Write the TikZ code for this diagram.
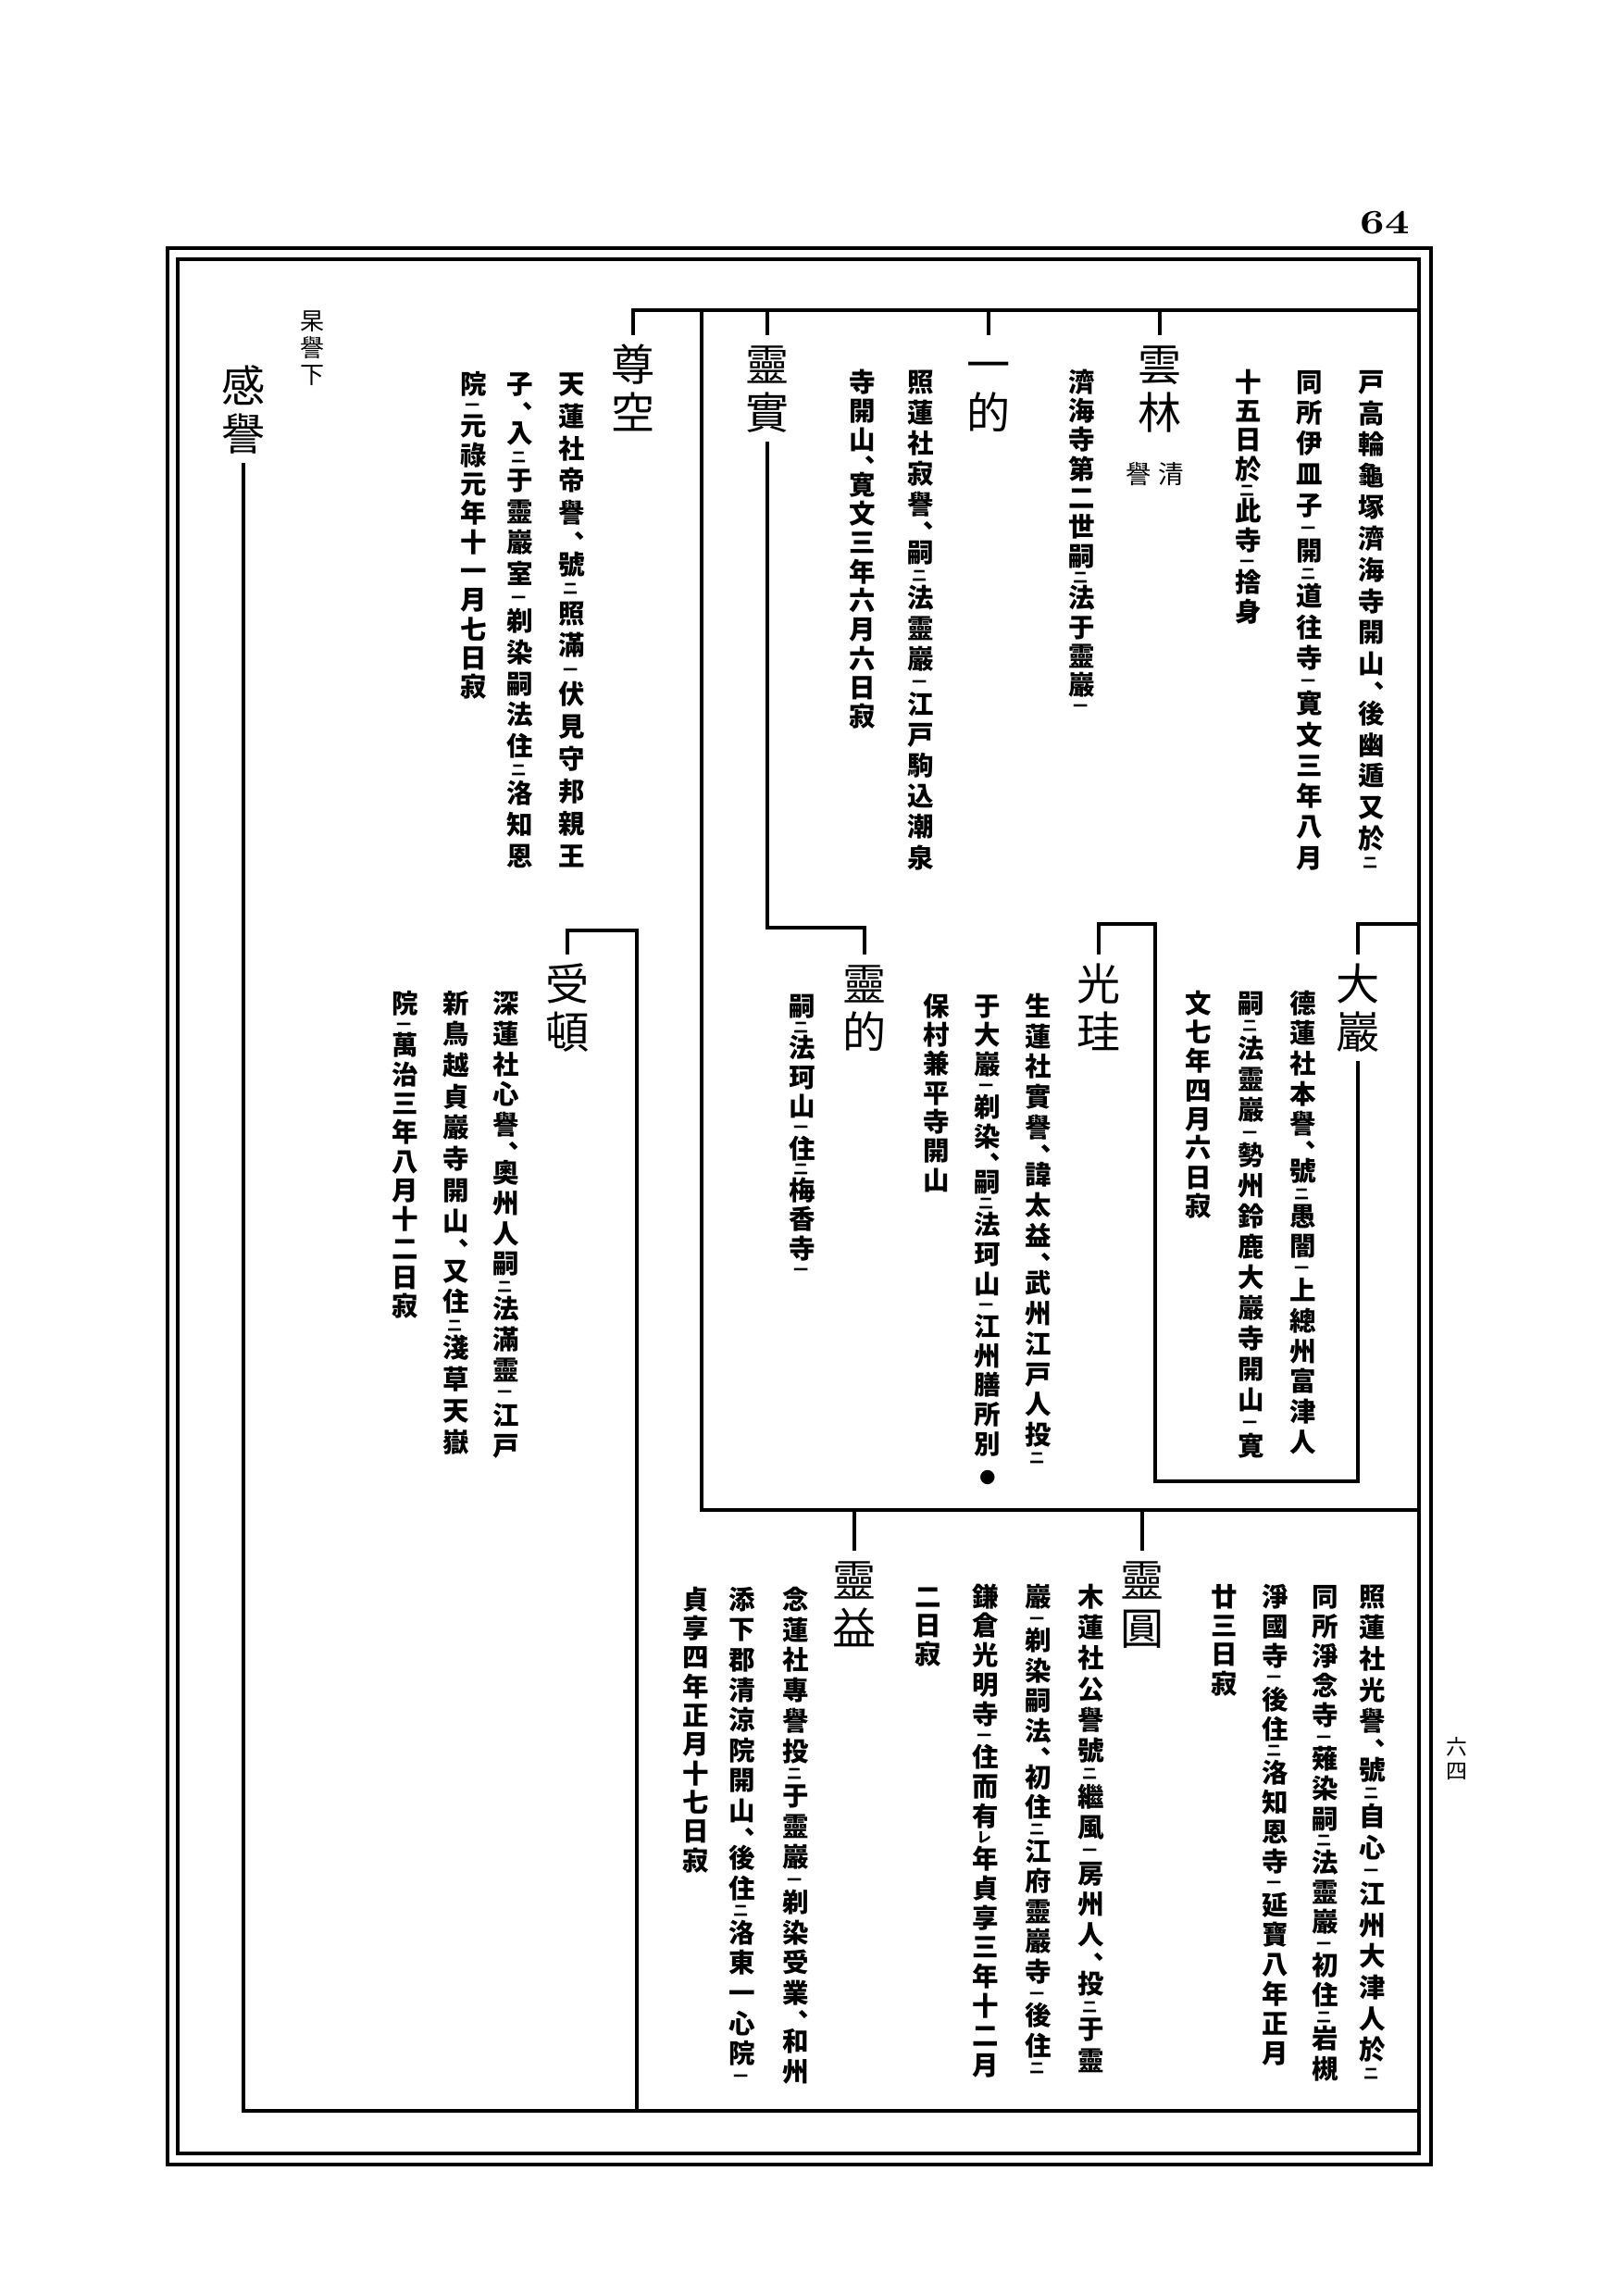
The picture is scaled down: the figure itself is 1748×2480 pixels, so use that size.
\documentclass[tikz,border=0pt]{standalone}
\usepackage{fontspec}
\usepackage{graphicx}
\newfontfamily\cjk{Noto Sans CJK JP}
\makeatletter
\def\kt{}
\newcommand\vc@ch[1]{\hbox to1em{\hss\vrule height.93em depth.17em width0pt\smash{#1}\hss}}
\newcommand\vc@kt[1]{\hbox to1em{\hss\vrule height.46em depth.04em width0pt\smash{\scalebox{.55}{#1}}\hss\kern.12em}}
\newcommand\vc@cm{\hbox to1em{\hss\vrule height.6em depth0em width0pt\smash{\raisebox{-.3em}{︑}}\hss}}
\def\vc@chk#1#2\@nil{\ifx#1\kt\vc@kt{#2}\else\ifx#1︑\vc@cm\else\vc@ch{#1#2}\fi\fi}
\newcommand\vc@run[1]{\offinterlineskip\@tfor\vc@x:=#1\do{\expandafter\vc@chk\vc@x\@nil\vc@glue}\unskip}
\newcommand\vcol[1]{\vbox{\let\vc@glue\relax\vc@run{#1}}}
\newcommand\vcolj[2]{\vbox to#1{\def\vc@glue{\vskip0pt plus1fil}\vc@run{#2}}}
\makeatother

\begin{document}
\begin{tikzpicture}[x=0.01cm,y=-0.01cm,
            lbl/.style={inner sep=0pt,anchor=north,font=\cjk\fontsize{13.4pt}{13.4pt}\selectfont},
            txt/.style={inner sep=0pt,anchor=north,font=\cjk\bfseries\fontsize{8.1pt}{8.1pt}\selectfont},
            sml/.style={inner sep=0pt,anchor=north,font=\cjk\fontsize{7.4pt}{7.4pt}\selectfont},
            link/.style={line width=0.9pt,shorten >=1.5pt},
            rim/.style={line width=1.1pt}]
            \useasboundingbox (0,0) rectangle (1748,2480);
            \draw[rim] (181,268) rectangle (1546,2338);
            \draw[rim] (192,280) rectangle (1533,2326);
            \node[font=\bfseries\fontsize{10.5pt}{10.5pt}\selectfont] (pgno) at (1496,241) {\scalebox{1.25}[1]{64}};
            \node[sml,font=\cjk\fontsize{6.5pt}{6.5pt}\selectfont] (pgkan) at (1574,1874) {\vcol{六四}};

            \node[lbl] (kanyo) at (263,390) {\vcol{感譽}};
            \node[sml] (gaiyo) at (338,332) {\vcol{杲譽下}};
            \node[lbl] (sonku) at (684,367) {\vcol{尊空}};
            \node[lbl] (reijitsu) at (829,367) {\vcol{靈實}};
            \node[lbl] (itteki) at (1068,367) {\vcol{一的}};
            \node[lbl] (unrin) at (1253,367) {\vcol{雲林}};
            \node[sml,anchor=center,font=\cjk\fontsize{7.8pt}{7.8pt}\selectfont] (unrin-a) at (1265,512) {清};
            \node[sml,anchor=center,font=\cjk\fontsize{7.8pt}{7.8pt}\selectfont] (unrin-b) at (1230,512) {譽};
            \node[lbl] (daigan) at (1467,1036) {\vcol{大巖}};
            \node[lbl] (kokei) at (1187,1036) {\vcol{光珪}};
            \node[lbl] (reiteki) at (934,1036) {\vcol{靈的}};
            \node[lbl] (juton) at (613,1036) {\vcol{受頓}};
            \node[lbl] (reien) at (1234,1680) {\vcol{靈圓}};
            \node[lbl] (reieki) at (923,1680) {\vcol{靈益}};

            \node[txt] (pre1) at (1482,396) {\vcolj{5.4cm}{戸高輪龜塚濟海寺開山︑後幽遁又於{\kt{二}}}};
            \node[txt] (pre2) at (1415,396) {\vcolj{5.4cm}{同所伊皿子{\kt{一}}開{\kt{二}}道往寺{\kt{一}}寛文三年八月}};
            \node[txt] (pre3) at (1349,396) {\vcol{十五日於{\kt{二}}此寺{\kt{一}}捨身}};
            \node[txt] (unrin1) at (1169,396) {\vcol{濟海寺第二世嗣{\kt{二}}法于靈巖{\kt{一}}}};
            \node[txt] (itteki1) at (995,396) {\vcolj{5.4cm}{照蓮社寂譽︑嗣{\kt{二}}法靈巖{\kt{一}}江戸駒込潮泉}};
            \node[txt] (itteki2) at (932,396) {\vcol{寺開山︑寛文三年六月六日寂}};
            \node[txt] (sonku1) at (618,398) {\vcolj{5.36cm}{天蓮社帝譽︑號{\kt{二}}照滿{\kt{一}}伏見守邦親王}};
            \node[txt] (sonku2) at (562,398) {\vcolj{5.36cm}{子︑入{\kt{二}}于靈巖室{\kt{一}}剃染嗣法住{\kt{二}}洛知恩}};
            \node[txt] (sonku3) at (512,398) {\vcol{院{\kt{一}}元祿元年十一月七日寂}};

            \node[txt] (daigan1) at (1408,1067) {\vcolj{5.0cm}{德蓮社本譽︑號{\kt{二}}愚闇{\kt{一}}上總州富津人}};
            \node[txt] (daigan2) at (1352,1067) {\vcolj{5.04cm}{嗣{\kt{二}}法靈巖{\kt{一}}勢州鈴鹿大巖寺開山{\kt{一}}寛}};
            \node[txt] (daigan3) at (1295,1067) {\vcol{文七年四月六日寂}};
            \node[txt] (kokei1) at (1122,1070) {\vcolj{5.09cm}{生蓮社實譽︑諱太益︑武州江戸人投{\kt{二}}}};
            \node[txt] (kokei2) at (1067,1070) {\vcolj{5.31cm}{于大巖{\kt{一}}剃染︑嗣{\kt{二}}法珂山{\kt{一}}江州膳所別{\scalebox{.6}{●}}}};
            \node[txt] (kokei3) at (1012,1070) {\vcol{保村兼平寺開山}};
            \node[txt] (reiteki1) at (867,1070) {\vcol{嗣{\kt{二}}法珂山{\kt{一}}住{\kt{二}}梅香寺{\kt{一}}}};
            \node[txt] (juton1) at (547,1067) {\vcolj{5.04cm}{深蓮社心譽︑奧州人嗣{\kt{二}}法滿靈{\kt{一}}江戸}};
            \node[txt] (juton2) at (493,1067) {\vcolj{5.0cm}{新鳥越貞巖寺開山︑又住{\kt{二}}淺草天嶽}};
            \node[txt] (juton3) at (438,1067) {\vcol{院{\kt{一}}萬治三年八月十二日寂}};

            \node[txt] (shoren1) at (1483,1708) {\vcolj{5.36cm}{照蓮社光譽︑號{\kt{二}}自心{\kt{一}}江州大津人於{\kt{二}}}};
            \node[txt] (shoren2) at (1432,1708) {\vcolj{5.36cm}{同所淨念寺{\kt{一}}薙染嗣{\kt{二}}法靈巖{\kt{一}}初住{\kt{二}}岩槻}};
            \node[txt] (shoren3) at (1378,1708) {\vcolj{5.19cm}{淨國寺{\kt{一}}後住{\kt{二}}洛知恩寺{\kt{一}}延寶八年正月}};
            \node[txt] (shoren4) at (1323,1708) {\vcol{廿三日寂}};
            \node[txt] (reien1) at (1179,1708) {\vcolj{5.27cm}{木蓮社公譽號{\kt{二}}繼風{\kt{一}}房州人︑投{\kt{二}}于靈}};
            \node[txt] (reien2) at (1122,1708) {\vcolj{5.3cm}{巖{\kt{一}}剃染嗣法︑初住{\kt{二}}江府靈巖寺{\kt{一}}後住{\kt{二}}}};
            \node[txt] (reien3) at (1065,1708) {\vcolj{5.32cm}{鎌倉光明寺{\kt{一}}住而有{\kt{レ}}年貞享三年十二月}};
            \node[txt] (reien4) at (1003,1708) {\vcol{二日寂}};
            \node[txt] (reieki1) at (860,1711) {\vcolj{5.36cm}{念蓮社專譽投{\kt{二}}于靈巖{\kt{一}}剃染受業︑和州}};
            \node[txt] (reieki2) at (802,1711) {\vcolj{5.36cm}{添下郡清涼院開山︑後住{\kt{二}}洛東一心院{\kt{一}}}};
            \node[txt] (reieki3) at (752,1711) {\vcol{貞享四年正月十七日寂}};

            \coordinate (bar-top) at (1533,335);
            \coordinate (bar-dai) at (1533,998);
            \coordinate (bar-mid) at (1533,1631);
            \coordinate (bar-low) at (1533,2280);
            \coordinate (box-nw) at (758,335);
            \coordinate (box-sw) at (758,1631);
            \coordinate (knee-rt) at (829,1002);
            \coordinate (dai-se) at (1467,1600);
            \coordinate (dai-sw) at (1248,1600);
            \coordinate (dai-nw) at (1248,998);
            \coordinate (jt-ne) at (688,1005);
            \coordinate (jt-se) at (688,2280);

            \draw[link,shorten >=0pt,shorten <=1.5pt] (sonku.north) |- (bar-top);
            \draw[link] (reijitsu.north |- bar-top) -- (reijitsu.north);
            \draw[link] (itteki.north |- bar-top) -- (itteki.north);
            \draw[link] (unrin.north |- bar-top) -- (unrin.north);
            \draw[link,shorten >=0pt] (box-nw) -- (box-sw) -- (bar-mid);
            \draw[link,shorten <=1.5pt] (reijitsu.south) -- (knee-rt) -| (reiteki.north);
            \draw[link] (bar-dai) -| (daigan.north);
            \draw[link,shorten <=1.5pt] (daigan.south) -- (dai-se) -- (dai-sw) -- (dai-nw) -| (kokei.north);
            \draw[link,shorten >=0pt,shorten <=1.5pt] (juton.north) |- (jt-ne) -- (jt-se);
            \draw[link,shorten >=0pt,shorten <=1.5pt] (kanyo.south) |- (bar-low);
            \draw[link] (reien.north |- bar-mid) -- (reien.north);
            \draw[link] (reieki.north |- bar-mid) -- (reieki.north);
        \end{tikzpicture}
\end{document}
